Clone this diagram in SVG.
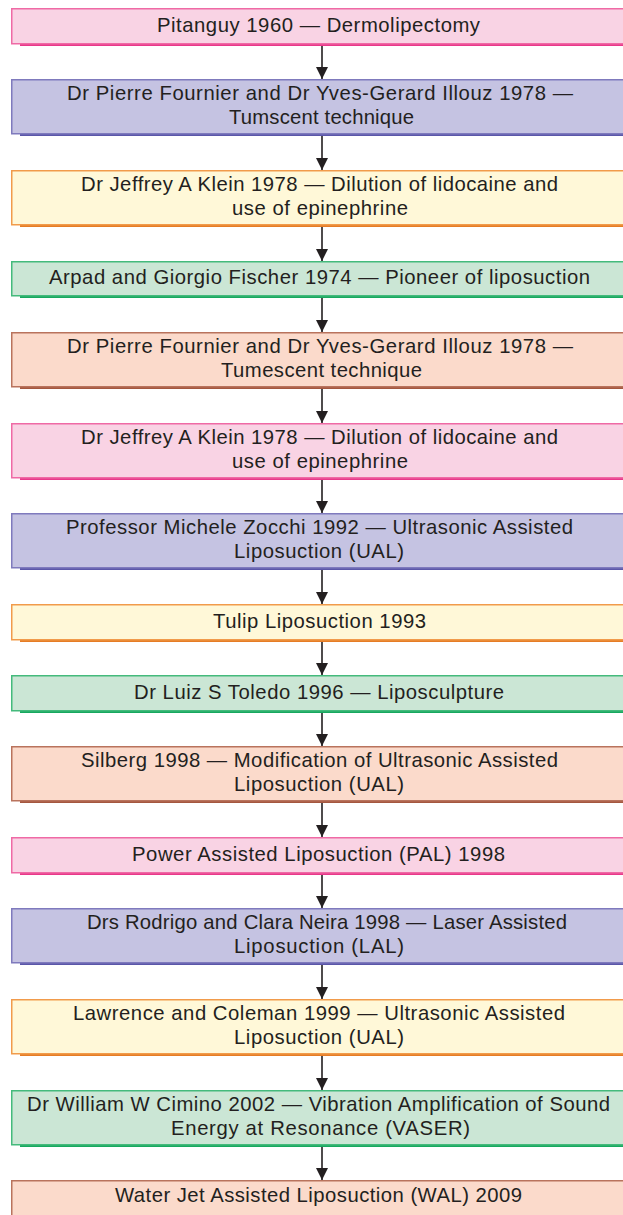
<svg xmlns="http://www.w3.org/2000/svg" width="623" height="1215" viewBox="0 0 623 1215">
<style>
text{font-family:"Liberation Sans",Arial,sans-serif;font-size:20.3px;fill:#231f20;text-anchor:middle}
.pink .b{fill:#f9d3e4;stroke:#ef6aa5}.pink .s{fill:#e8388a}
.blue .b{fill:#c5c3e2;stroke:#7f7abd}.blue .s{fill:#5b56a9}
.yel .b{fill:#fff8d8;stroke:#f19b4b}.yel .s{fill:#e57c25}
.grn .b{fill:#cbe6d5;stroke:#44ba7c}.grn .s{fill:#17a85f}
.sal .b{fill:#fbdacb;stroke:#b9735d}.sal .s{fill:#a4573f}
.b{stroke-width:1.5}
.c line{stroke:#231f20;stroke-width:1.6}
</style>
<defs>
<marker id="ah" viewBox="0 0 12 12" refX="12" refY="6" markerWidth="12" markerHeight="12" markerUnits="userSpaceOnUse" orient="auto"><path d="M0,0L12,6L0,12Z" fill="#231f20"/></marker>
</defs>
<g class="c">
<line x1="322" y1="46" x2="322" y2="79" marker-end="url(#ah)"/>
<line x1="322" y1="136" x2="322" y2="170" marker-end="url(#ah)"/>
<line x1="322" y1="227" x2="322" y2="261" marker-end="url(#ah)"/>
<line x1="322" y1="298" x2="322" y2="332" marker-end="url(#ah)"/>
<line x1="322" y1="389" x2="322" y2="423" marker-end="url(#ah)"/>
<line x1="322" y1="480" x2="322" y2="513" marker-end="url(#ah)"/>
<line x1="322" y1="570" x2="322" y2="604" marker-end="url(#ah)"/>
<line x1="322" y1="642" x2="322" y2="675" marker-end="url(#ah)"/>
<line x1="322" y1="713" x2="322" y2="746" marker-end="url(#ah)"/>
<line x1="322" y1="803" x2="322" y2="837" marker-end="url(#ah)"/>
<line x1="322" y1="875" x2="322" y2="908" marker-end="url(#ah)"/>
<line x1="322" y1="965" x2="322" y2="999" marker-end="url(#ah)"/>
<line x1="322" y1="1056" x2="322" y2="1090" marker-end="url(#ah)"/>
<line x1="322" y1="1147" x2="322" y2="1180" marker-end="url(#ah)"/>
</g>
<g id="n1" class="pink"><rect class="s" x="20" y="43" width="610" height="3"/><rect class="b" x="11.75" y="8.75" width="620" height="35"/><text x="318.5" y="31.5" textLength="323" lengthAdjust="spacing">Pitanguy 1960 — Dermolipectomy</text></g>
<g id="n2" class="blue"><rect class="s" x="20" y="133" width="610" height="3"/><rect class="b" x="11.75" y="79.75" width="620" height="54"/><text x="320" y="100" textLength="506" lengthAdjust="spacing">Dr Pierre Fournier and Dr Yves-Gerard Illouz 1978 —</text><text x="321.5" y="124" textLength="185" lengthAdjust="spacing">Tumscent technique</text></g>
<g id="n3" class="yel"><rect class="s" x="20" y="224" width="610" height="3"/><rect class="b" x="11.75" y="170.75" width="620" height="54"/><text x="319.5" y="191" textLength="477" lengthAdjust="spacing">Dr Jeffrey A Klein 1978 — Dilution of lidocaine and</text><text x="320" y="215" textLength="176" lengthAdjust="spacing">use of epinephrine</text></g>
<g id="n4" class="grn"><rect class="s" x="20" y="295" width="610" height="3"/><rect class="b" x="11.75" y="261.75" width="620" height="34"/><text x="319.5" y="284" textLength="541" lengthAdjust="spacing">Arpad and Giorgio Fischer 1974 — Pioneer of liposuction</text></g>
<g id="n5" class="sal"><rect class="s" x="20" y="386" width="610" height="3"/><rect class="b" x="11.75" y="332.75" width="620" height="54"/><text x="320" y="353" textLength="506" lengthAdjust="spacing">Dr Pierre Fournier and Dr Yves-Gerard Illouz 1978 —</text><text x="321.5" y="377" textLength="201" lengthAdjust="spacing">Tumescent technique</text></g>
<g id="n6" class="pink"><rect class="s" x="20" y="477" width="610" height="3"/><rect class="b" x="11.75" y="423.75" width="620" height="54"/><text x="319.5" y="444" textLength="477" lengthAdjust="spacing">Dr Jeffrey A Klein 1978 — Dilution of lidocaine and</text><text x="320" y="468" textLength="176" lengthAdjust="spacing">use of epinephrine</text></g>
<g id="n7" class="blue"><rect class="s" x="20" y="567" width="610" height="3"/><rect class="b" x="11.75" y="513.75" width="620" height="54"/><text x="319.5" y="534" textLength="507" lengthAdjust="spacing">Professor Michele Zocchi 1992 — Ultrasonic Assisted</text><text x="319" y="558" textLength="170" lengthAdjust="spacing">Liposuction (UAL)</text></g>
<g id="n8" class="yel"><rect class="s" x="20" y="639" width="610" height="3"/><rect class="b" x="11.75" y="604.75" width="620" height="35"/><text x="319.5" y="628" textLength="213" lengthAdjust="spacing">Tulip Liposuction 1993</text></g>
<g id="n9" class="grn"><rect class="s" x="20" y="710" width="610" height="3"/><rect class="b" x="11.75" y="675.75" width="620" height="35"/><text x="319" y="699" textLength="370" lengthAdjust="spacing">Dr Luiz S Toledo 1996 — Liposculpture</text></g>
<g id="n10" class="sal"><rect class="s" x="20" y="800" width="610" height="3"/><rect class="b" x="11.75" y="746.75" width="620" height="54"/><text x="319.5" y="767" textLength="477" lengthAdjust="spacing">Silberg 1998 — Modification of Ultrasonic Assisted</text><text x="319" y="791" textLength="170" lengthAdjust="spacing">Liposuction (UAL)</text></g>
<g id="n11" class="pink"><rect class="s" x="20" y="872" width="610" height="3"/><rect class="b" x="11.75" y="837.75" width="620" height="35"/><text x="318.5" y="861" textLength="373" lengthAdjust="spacing">Power Assisted Liposuction (PAL) 1998</text></g>
<g id="n12" class="blue"><rect class="s" x="20" y="962" width="610" height="3"/><rect class="b" x="11.75" y="908.75" width="620" height="54"/><text x="327" y="929" textLength="480" lengthAdjust="spacing">Drs Rodrigo and Clara Neira 1998 — Laser Assisted</text><text x="319" y="953" textLength="170" lengthAdjust="spacing">Liposuction (LAL)</text></g>
<g id="n13" class="yel"><rect class="s" x="20" y="1053" width="610" height="3"/><rect class="b" x="11.75" y="999.75" width="620" height="54"/><text x="319" y="1020" textLength="492" lengthAdjust="spacing">Lawrence and Coleman 1999 — Ultrasonic Assisted</text><text x="319" y="1044" textLength="170" lengthAdjust="spacing">Liposuction (UAL)</text></g>
<g id="n14" class="grn"><rect class="s" x="20" y="1144" width="610" height="3"/><rect class="b" x="11.75" y="1090.75" width="620" height="54"/><text x="318.5" y="1111" textLength="583" lengthAdjust="spacing">Dr William W Cimino 2002 — Vibration Amplification of Sound</text><text x="320.5" y="1135" textLength="299" lengthAdjust="spacing">Energy at Resonance (VASER)</text></g>
<g id="n15" class="sal"><rect class="b" x="11.75" y="1180.75" width="620" height="54"/><text x="318.5" y="1202" textLength="407" lengthAdjust="spacing">Water Jet Assisted Liposuction (WAL) 2009</text></g>
</svg>
